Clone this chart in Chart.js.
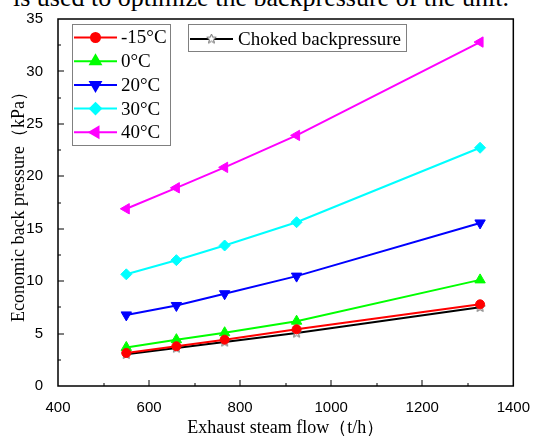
<!DOCTYPE html>
<html>
<head>
<meta charset="utf-8">
<script src="https://cdn.jsdelivr.net/npm/chart.js@4"></script>
<style>
html,body{margin:0;padding:0;background:#fff;overflow:hidden}
#wrap{position:relative;width:535px;height:437px;overflow:hidden}
#chart{position:absolute;left:0;top:0}
#caption{position:absolute;right:26px;top:-17px;white-space:nowrap;font:26px "Liberation Serif",serif;color:#000}
</style>
</head>
<body>
<div id="wrap">
<div id="caption">is used to optimize the backpressure of the unit.</div>
<canvas id="chart" width="535" height="437"></canvas>
</div>
<script>

/* ================================
   DATA
================================ */

const flow = [550, 660, 766, 924, 1327]

const pM15 = [3.15, 3.79, 4.42, 5.41, 7.79]
const p0 = [3.68, 4.42, 5.08, 6.18, 10.12]
const p20 = [6.78, 7.68, 8.8, 10.48, 15.55]
const p30 = [10.65, 12.0, 13.4, 15.62, 22.72]
const p40 = [16.9, 18.9, 20.85, 23.9, 32.8]
const choked = [3.02, 3.62, 4.2, 5.05, 7.5]

const tempLabels = ["-15°C", "0°C", "20°C", "30°C", "40°C"]
const chokedLabel = "Choked backpressure"

const xMin = 400, xMax = 1400, xStep = 200
const yMin = 0, yMax = 35, yStep = 5

/* ================================
   HOLLOW STAR MARKER
================================ */

function starImage(){
const c = document.createElement("canvas")
c.width = 11
c.height = 11
const g = c.getContext("2d")
g.beginPath()
for(let i=0;i<10;i++){
const r = i%2 ? 2.2 : 5
const a = -Math.PI/2 + i*Math.PI/5
g.lineTo(5.5 + r*Math.cos(a), 5.5 + r*Math.sin(a))
}
g.closePath()
g.fillStyle = "#fff"
g.fill()
g.strokeStyle = "#666"
g.lineWidth = 1
g.stroke()
return c
}

const star = starImage()

function pts(ys){
return flow.map((x,i)=>({x:x, y:ys[i]}))
}

function series(label, ys, color, style, rotation, radius){
return {
label:label,
data:pts(ys),
borderColor:color,
backgroundColor:color,
borderWidth:2,
pointStyle:style,
rotation:rotation,
pointRadius:radius,
pointBorderWidth:1,
pointBorderColor:color,
pointBackgroundColor:color,
tension:0
}
}

const datasets = [
series(tempLabels[0], pM15, "#ff0000", "circle", 0, 4.5),
series(tempLabels[1], p0, "#00ff00", "triangle", 0, 6),
series(tempLabels[2], p20, "#0000ff", "triangle", 180, 6),
series(tempLabels[3], p30, "#00ffff", "rectRot", 0, 5.5),
series(tempLabels[4], p40, "#ff00ff", "triangle", 270, 6),
{
label:chokedLabel,
data:pts(choked),
borderColor:"#000",
backgroundColor:"#fff",
borderWidth:2,
pointStyle:star,
pointRadius:5,
tension:0
}
]

/* ================================
   FRAME + INWARD TICKS
================================ */

const frame = {
id:"frame",
beforeDatasetsDraw(chart){
const {ctx, chartArea:a, scales:{x, y}} = chart
ctx.save()
ctx.strokeStyle = "#000"
ctx.lineWidth = 1.5
ctx.strokeRect(a.left, a.top, a.right-a.left, a.bottom-a.top)

ctx.lineWidth = 1
ctx.beginPath()
for(let v=xMin+xStep/2; v<xMax; v+=xStep/2){
const len = (v-xMin)%xStep===0 ? 6 : 3
const px = Math.round(x.getPixelForValue(v))
ctx.moveTo(px, a.bottom)
ctx.lineTo(px, a.bottom-len)
}
for(let v=yMin+yStep/2; v<yMax; v+=yStep/2){
const len = (v-yMin)%yStep===0 ? 6 : 3
const py = Math.round(y.getPixelForValue(v))
ctx.moveTo(a.left, py)
ctx.lineTo(a.left+len, py)
}
ctx.stroke()
ctx.restore()
}
}

/* ================================
   TWO LEGEND BOXES
================================ */

function legendRow(ctx, ds, x0, x1, y, textX){
ctx.strokeStyle = ds.borderColor
ctx.lineWidth = 2
ctx.beginPath()
ctx.moveTo(x0, y)
ctx.lineTo(x1, y)
ctx.stroke()
ctx.fillStyle = ds.pointBackgroundColor || ds.backgroundColor
ctx.strokeStyle = ds.pointBorderColor || ds.borderColor
Chart.helpers.drawPoint(ctx, {
pointStyle:ds.pointStyle,
rotation:ds.rotation || 0,
radius:ds.pointRadius,
borderWidth:1
}, (x0+x1)/2, y)
ctx.fillStyle = "#000"
ctx.fillText(ds.label, textX, y+1)
}

const legends = {
id:"legends",
afterDatasetsDraw(chart){
const ctx = chart.ctx
const ds = chart.data.datasets
ctx.save()
ctx.font = '19px "Liberation Serif", serif'
ctx.textBaseline = "middle"
ctx.textAlign = "left"

ctx.fillStyle = "#fff"
ctx.fillRect(72, 24, 99, 122)
ctx.strokeStyle = "#808080"
ctx.lineWidth = 1
ctx.strokeRect(72.5, 24.5, 98, 121)
for(let i=0;i<5;i++){
legendRow(ctx, ds[i], 74, 117, 37.5 + i*23.7, 121)
}

ctx.fillStyle = "#fff"
ctx.fillRect(188, 24, 219, 28)
ctx.strokeStyle = "#808080"
ctx.lineWidth = 1
ctx.strokeRect(188.5, 24.5, 218, 27)
legendRow(ctx, ds[5], 190, 233, 39, 238)

ctx.restore()
}
}

/* ================================
   CHART
================================ */

new Chart(
document.getElementById("chart"),
{
type:"line",
data:{datasets:datasets},
options:{
responsive:false,
animation:false,
devicePixelRatio:1,
layout:{padding:{left:0, right:18, top:19, bottom:0}},
plugins:{
legend:{display:false},
tooltip:{enabled:false}
},
scales:{
x:{
type:"linear",
min:xMin,
max:xMax,
grid:{display:false},
border:{display:false},
ticks:{stepSize:xStep, color:"#000", padding:5, font:{family:"Liberation Sans", size:15}, callback:v=>String(v)},
title:{display:true, text:"Exhaust steam flow（t/h）", color:"#000", padding:{top:0, bottom:0}, font:{family:"Liberation Serif", size:18, lineHeight:1}},
afterFit(s){ s.height = 51 }
},
y:{
type:"linear",
min:yMin,
max:yMax,
grid:{display:false},
border:{display:false},
ticks:{stepSize:yStep, color:"#000", padding:7, font:{family:"Liberation Sans", size:15}, callback:v=>String(v)},
title:{display:true, text:"Economic back pressure（kPa）", color:"#000", padding:{top:10, bottom:0}, font:{family:"Liberation Serif", size:18, lineHeight:1}},
afterFit(s){ s.width = 58 }
}
}
},
plugins:[frame, legends]
})

</script>
</body>
</html>
